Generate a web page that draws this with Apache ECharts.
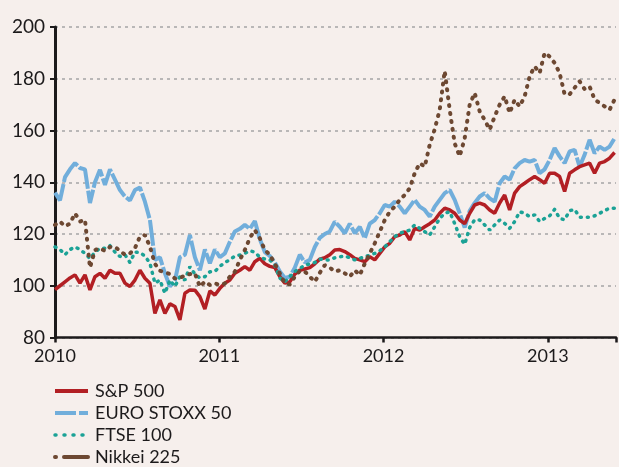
<!DOCTYPE html>
<html>
<head>
<meta charset="utf-8">
<script src="https://cdn.jsdelivr.net/npm/echarts@6/dist/echarts.min.js"></script>
<style>
  html, body { margin: 0; padding: 0; background: #f6efec; }
  #chart { width: 619px; height: 467px; }
</style>
</head>
<body>
<div id="chart"></div>
<script>
// sampling: one reading every ~11 days, starting at the beginning of 2010
const startYear = 2010;
const stepYears = 5 / 164.4;

const seriesNames = ['S&P 500', 'EURO STOXX 50', 'FTSE 100', 'Nikkei 225'];
const yearTicks = [2010, 2011, 2012, 2013];

const spx = [
    98.5, 100, 101.5, 103, 104.2, 101, 104.2, 98.4, 103.5, 104.8,
    102.9, 106, 104.8, 104.8, 101, 99.7, 102.2, 106, 102.9, 101,
    89.3, 94.5, 89.3, 93, 92, 86.8, 97.1, 98.4, 98.3, 95.8,
    91, 98, 96.4, 99, 101, 102.2, 104.8, 106, 107.4, 106,
    109.3, 110.6, 108.5, 107.5, 107, 103.5, 101, 101.5, 104.5, 106,
    106.5, 107, 108.5, 110.3, 110.8, 112, 113.8, 114, 113.2, 112,
    110.6, 110, 109.3, 111.2, 110, 112.5, 115, 116.4, 119, 119.6,
    120.9, 117.7, 122.2, 121.5, 122.8, 124, 125.4, 128, 130, 129.3,
    128, 125.4, 124, 128, 131.2, 131.9, 131.2, 129.3, 128, 132,
    135.1, 129.3, 135.8, 138.3, 139.6, 141, 142.2, 141, 139.6, 143.5,
    143.5, 142.2, 136.4, 143.5, 144.8, 146, 146.7, 147.4, 143.5, 147.4,
    148, 149.3, 151.5
];

const sx5e = [
    136, 133, 142, 145, 147.4, 145.5, 145, 132, 140, 144.8,
    139, 145, 141, 137, 134.5, 133, 137, 138, 132.5, 125.4,
    110, 111, 104.8, 99.7, 102, 111, 112, 119.6, 111, 106,
    114, 108.7, 114, 111, 112.5, 117, 121, 122, 123.5, 122,
    125, 118, 113, 111.5, 109, 105.5, 103, 103.5, 107, 112,
    109, 110, 115, 118.5, 120, 121, 124.8, 122.8, 120.3, 124,
    120.3, 122.8, 118.3, 124, 125.4, 128, 131.2, 130.6, 132.5, 130.6,
    128, 130.6, 133.2, 130.6, 129.3, 126.7, 130.6, 133.2, 135.8, 137,
    133.2, 128, 122.5, 129, 132, 134.5, 135.8, 133.8, 132.5, 139.6,
    142.2, 141, 145.4, 147.4, 148.6, 148, 148.6, 143.5, 145, 148.6,
    153.2, 150, 147.4, 151.9, 152.5, 146, 150.6, 156.4, 151.2, 153.8,
    152.5, 153.8, 157
];

const ftse = [
    115, 114, 112, 114, 115, 114, 112.5, 110.5, 113, 114.5,
    114.5, 115.5, 113, 111.3, 112, 109, 113, 112.8, 111.5, 108.7,
    101, 102.2, 97.1, 102.2, 99.7, 103.5, 102.2, 107.4, 104.5, 103,
    103.5, 105.4, 105.5, 107.5, 109, 110, 111.5, 111.9, 112.5, 113.5,
    113, 111, 110.3, 110, 108, 103, 101.5, 103.5, 105.5, 106.7,
    108, 108.4, 109, 110.3, 110, 110, 110.8, 111.2, 111.5, 110.8,
    110, 110.6, 111.2, 111.8, 112.5, 113.5, 115, 117, 119, 120.3,
    120.9, 121.5, 123.5, 122.2, 120.9, 119.6, 122.8, 126, 128, 128.6,
    124, 119, 116, 122.5, 125.5, 125.4, 123.5, 121.5, 123.5, 125.4,
    124.1, 122.2, 124.8, 128.6, 128, 126.7, 127.4, 124.8, 126, 127,
    129.5, 126, 125.5, 129, 129.5, 126.5, 126.5, 126.5, 127, 128,
    129, 130, 130
];

const nikkei = [
    123.5, 124.8, 123, 124, 128, 124.8, 125.5, 107, 113.8, 114.5,
    113.5, 115, 115, 113.5, 112, 112.5, 114.5, 119, 119.6, 115.1,
    108.5, 105.8, 105.2, 104.5, 102.8, 103, 104, 104.5, 104.8, 99.6,
    101.6, 100.3, 100.9, 100.3, 100.9, 103.5, 105.4, 110, 113.8, 118.5,
    121.5, 118.3, 113.8, 112, 108.5, 104.8, 101, 100.5, 103.5, 105.7,
    105.5, 103.5, 101.5, 105, 108, 107, 105.5, 106, 104.8, 103.5,
    106, 104.1, 108.6, 112.5, 116.4, 120.9, 125.4, 128.6, 130.6, 133.2,
    135.1, 137.7, 143.5, 147.4, 146, 154.5, 160.5, 168, 183, 168,
    155, 150, 157, 170, 174.5, 167.4, 164.1, 160.3, 165.4, 170,
    173.2, 166.7, 171.9, 169.3, 173.2, 180.9, 184.8, 182.2, 190, 188.6,
    186.1, 182.2, 174, 174, 176.5, 179, 176, 177, 172, 170.6,
    169.3, 168, 172
];

const colors = {
    spx: '#b21f24',
    sx5e: '#71aedb',
    ftse: '#1ba296',
    nikkei: '#6d4832'
};

const withX = values => values.map((v, i) => [startYear + i * stepYears, v]);

const chart = echarts.init(document.getElementById('chart'), null, { renderer: 'canvas' });

const textColor = '#1c1a1b';
const fontFamily = 'Lato, "Open Sans", sans-serif';

const option = {
    backgroundColor: '#f6efec',
    animation: false,
    textStyle: { fontFamily: fontFamily },
    grid: { left: 55, right: 0, top: 27, bottom: 129.5 },
    legend: {
        data: [
            { name: seriesNames[0], lineStyle: { width: 4, cap: 'butt' } },
            { name: seriesNames[1], lineStyle: { width: 4, type: [21, 3], cap: 'butt' } },
            { name: seriesNames[2], lineStyle: { width: 3.5, type: [1, 8], cap: 'round' } },
            { name: seriesNames[3], lineStyle: { width: 4, type: [1, 8, 30, 0], cap: 'round' } }
        ],
        orient: 'vertical',
        left: 53,
        top: 382,
        padding: 0,
        itemWidth: 33,
        itemHeight: 12,
        itemGap: 4,
        itemStyle: { opacity: 0 },
        textStyle: { color: textColor, fontSize: 18, lineHeight: 18, fontFamily: fontFamily, padding: [0, 0, 0, 2] }
    },
    xAxis: {
        type: 'value',
        min: 2010,
        max: 2013.415,
        interval: 1,
        axisLine: { lineStyle: { color: textColor, width: 2.5 } },
        axisTick: { show: true, length: 5, lineStyle: { color: textColor, width: 2.5 } },
        axisLabel: {
            color: textColor,
            fontSize: 18,
            margin: 10,
            formatter: v => yearTicks.includes(v) ? String(v) : ''
        },
        splitLine: { show: false }
    },
    yAxis: {
        type: 'value',
        min: 80,
        max: 200,
        interval: 20,
        axisLine: { show: true, lineStyle: { color: textColor, width: 3 } },
        axisTick: { show: true, length: 5, lineStyle: { color: textColor, width: 2 } },
        axisLabel: { color: textColor, fontSize: 19, margin: 10 },
        splitLine: { lineStyle: { color: '#a5a5a5', width: 1.5, type: [3, 4] } }
    },
    series: [
        {
            name: 'EURO STOXX 50',
            type: 'line',
            data: withX(sx5e),
            symbol: 'none',
            z: 2,
            color: colors.sx5e,
            lineStyle: { color: colors.sx5e, width: 4, type: [26, 2] }
        },
        {
            name: 'S&P 500',
            type: 'line',
            data: withX(spx),
            symbol: 'none',
            z: 3,
            color: colors.spx,
            lineStyle: { color: colors.spx, width: 3.5 }
        },
        {
            name: 'FTSE 100',
            type: 'line',
            data: withX(ftse),
            symbol: 'none',
            z: 4,
            color: colors.ftse,
            lineStyle: { color: colors.ftse, width: 3.5, type: [1, 6], cap: 'round' }
        },
        {
            name: 'Nikkei 225',
            type: 'line',
            data: withX(nikkei),
            symbol: 'none',
            z: 5,
            color: colors.nikkei,
            lineStyle: { color: colors.nikkei, width: 4, type: [1, 7], cap: 'round' }
        }
    ]
};

chart.setOption(option);
</script>
</body>
</html>
